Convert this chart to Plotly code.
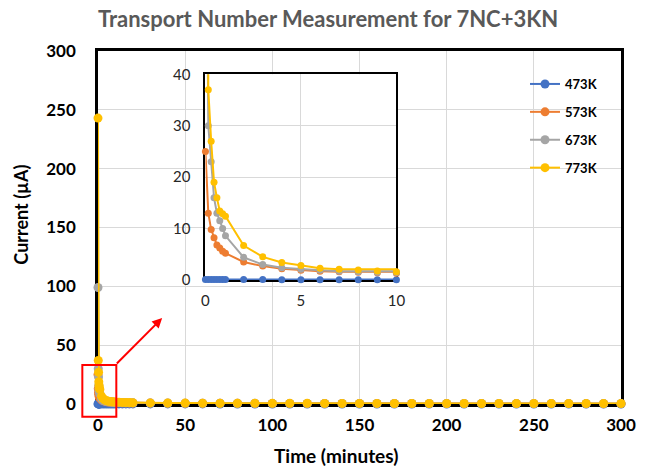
import plotly.graph_objects as go

# Sampling times (minutes)
time_min = [0, 0.15, 0.3, 0.45, 0.6, 0.75, 0.9, 1.05,
            2, 3, 4, 5, 6, 7, 8, 9, 10,
            12, 14, 16, 18, 20,
            30, 40, 50, 60, 70, 80, 90, 100, 110, 120, 130, 140, 150, 160,
            170, 180, 190, 200, 210, 220, 230, 240, 250, 260, 270, 280, 290, 300]

# Current (µA) for each temperature
current_473K = [0.1, 0.1, 0.1, 0.1, 0.1, 0.1, 0.1, 0.1,
                0.08, 0.08, 0.07, 0.07, 0.07, 0.06, 0.06, 0.06, 0.06,
                0.05, 0.05, 0.05, 0.05, 0.05,
                0.05, 0.05, 0.05, 0.05, 0.04, 0.04, 0.04, 0.04, 0.04, 0.04, 0.04, 0.04, 0.04, 0.04,
                0.04, 0.04, 0.04, 0.04, 0.04, 0.04, 0.04, 0.04, 0.04, 0.04, 0.04, 0.04, 0.04, 0.04]

current_573K = [25, 13, 9.8, 8.2, 6.8, 6.2, 5.6, 5.2,
                3.5, 2.7, 2.2, 1.9, 1.7, 1.6, 1.5, 1.4, 1.3,
                1.2, 1.1, 1.0, 0.95, 0.9,
                0.8, 0.72, 0.66, 0.61, 0.57, 0.54, 0.51, 0.49, 0.47, 0.45, 0.43, 0.42, 0.41, 0.40,
                0.39, 0.38, 0.37, 0.36, 0.35, 0.35, 0.34, 0.33, 0.33, 0.32, 0.32, 0.31, 0.31, 0.30]

current_673K = [99, 30, 23, 16, 13, 11.5, 10, 8.6,
                4.4, 3.0, 2.4, 2.1, 1.9, 1.7, 1.6, 1.5, 1.45,
                1.3, 1.2, 1.1, 1.05, 1.0,
                0.85, 0.76, 0.7, 0.65, 0.61, 0.58, 0.55, 0.53, 0.51, 0.49, 0.47, 0.46, 0.45, 0.44,
                0.43, 0.42, 0.41, 0.40, 0.39, 0.39, 0.38, 0.37, 0.37, 0.36, 0.36, 0.35, 0.35, 0.34]

current_773K = [243, 37, 27, 19, 16, 13.4, 12.9, 12.4,
                6.7, 4.5, 3.4, 2.8, 2.3, 2.1, 1.95, 1.75, 1.6,
                1.45, 1.35, 1.25, 1.18, 1.1,
                0.95, 0.85, 0.78, 0.72, 0.68, 0.64, 0.61, 0.58, 0.56, 0.54, 0.52, 0.5, 0.49, 0.48,
                0.47, 0.46, 0.45, 0.44, 0.43, 0.42, 0.41, 0.41, 0.40, 0.40, 0.39, 0.39, 0.38, 0.38]

series_names = ["473K", "573K", "673K", "773K"]
series_values = [current_473K, current_573K, current_673K, current_773K]
series_colors = ["#4472C4", "#ED7D31", "#A5A5A5", "#FFC000"]

main_x_ticks = [0, 50, 100, 150, 200, 250, 300]
main_y_ticks = [0, 50, 100, 150, 200, 250, 300]
inset_x_ticks = [0, 5, 10]
inset_y_ticks = [0, 10, 20, 30, 40]

FONT = "Lato"
W, H = 648, 469
L, R, T, B = 98, 16, 51, 65
PW, PH = W - L - R, H - T - B


def px_x(px):
    return (px - L) / PW


def px_y(py):
    return (H - B - py) / PH


fig = go.Figure()

# Main chart
for name, vals, col in zip(series_names, series_values, series_colors):
    fig.add_trace(go.Scatter(
        x=time_min, y=vals, name=name, mode="lines+markers",
        line=dict(color=col, width=2), marker=dict(color=col, size=9),
        legendgroup=name, xaxis="x", yaxis="y", cliponaxis=False,
    ))

# Zoomed inset (first 10 minutes)
for name, vals, col in zip(series_names, series_values, series_colors):
    fig.add_trace(go.Scatter(
        x=time_min, y=vals, name=name, mode="lines+markers",
        line=dict(color=col, width=2), marker=dict(color=col, size=7),
        showlegend=False, xaxis="x2", yaxis="y2", cliponaxis=False,
    ))

grid = "#D9D9D9"
fig.update_layout(
    width=W, height=H,
    margin=dict(l=L, r=R, t=T, b=B),
    paper_bgcolor="white", plot_bgcolor="white",
    font=dict(family=FONT, color="black"),
    showlegend=True,
    legend=dict(
        x=px_x(534), y=px_y(69), xanchor="left", yanchor="top",
        bgcolor="rgba(0,0,0,0)", font=dict(size=13, family=FONT, color="black", weight="bold"),
        tracegroupgap=8, itemwidth=30,
    ),
    xaxis=dict(
        domain=[0, 1], range=[0, 300], tickvals=main_x_ticks,
        showgrid=True, gridcolor=grid, gridwidth=1, zeroline=False,
        showline=True, linecolor="black", linewidth=2.5, mirror=True,
        layer="below traces",
        ticks="", ticklabelstandoff=4,
        tickfont=dict(size=17, family=FONT, color="black", weight="bold"),
    ),
    yaxis=dict(
        domain=[0, 1], range=[0, 300], tickvals=main_y_ticks,
        showgrid=True, gridcolor=grid, gridwidth=1, zeroline=False,
        showline=True, linecolor="black", linewidth=2.5, mirror=True,
        layer="below traces",
        ticks="", ticklabelstandoff=16,
        tickfont=dict(size=17, family=FONT, color="black", weight="bold"),
    ),
    xaxis2=dict(
        domain=[px_x(207.7), px_x(402.7)], range=[0, 10], tickvals=inset_x_ticks,
        anchor="y2",
        showgrid=True, gridcolor=grid, gridwidth=1, zeroline=False,
        showline=True, linecolor="black", linewidth=2, mirror=True,
        layer="below traces",
        ticks="", ticklabelstandoff=6,
        tickfont=dict(size=15, family=FONT, color="#262626"),
    ),
    yaxis2=dict(
        domain=[px_y(280), px_y(74.3)], range=[0, 40], tickvals=inset_y_ticks,
        anchor="x2",
        showgrid=True, gridcolor=grid, gridwidth=1, zeroline=False,
        showline=True, linecolor="black", linewidth=2, mirror=True,
        layer="below traces",
        ticks="", ticklabelstandoff=10,
        tickfont=dict(size=15, family=FONT, color="#262626"),
    ),
    shapes=[
        # white backing for the inset so the main grid does not show through
        dict(type="rect", xref="x2 domain", yref="y2 domain", x0=0, x1=1, y0=0, y1=1,
             fillcolor="white", line=dict(width=0), layer="below"),
        # highlight box around the early-time region
        dict(type="rect", xref="paper", yref="paper",
             x0=px_x(82), x1=px_x(116.7), y0=px_y(416.7), y1=px_y(365),
             line=dict(color="red", width=2), fillcolor="rgba(0,0,0,0)", layer="above"),
    ],
    annotations=[
        dict(text="", xref="paper", yref="paper", x=px_x(163.5), y=px_y(318),
             ax=116.7 - 163.5, ay=365 - 318, axref="pixel", ayref="pixel",
             showarrow=True, arrowhead=2, arrowsize=1, arrowwidth=2, arrowcolor="red"),
        dict(text="<b>Transport Number Measurement for 7NC+3KN</b>",
             xref="paper", yref="paper", x=px_x(333), y=px_y(18),
             xanchor="center", yanchor="middle", showarrow=False,
             font=dict(size=22, family=FONT, color="#595959")),
        dict(text="<b>Time (minutes)</b>", xref="paper", yref="paper",
             x=px_x(341), y=px_y(455), xanchor="center", yanchor="middle", showarrow=False,
             font=dict(size=19, family=FONT, color="black")),
        dict(text="<b>Current (µA)</b>", xref="paper", yref="paper",
             x=px_x(19), y=px_y(215), xanchor="center", yanchor="middle", showarrow=False,
             textangle=-90, font=dict(size=18, family=FONT, color="black")),
    ],
)

fig.write_html("out.html")
